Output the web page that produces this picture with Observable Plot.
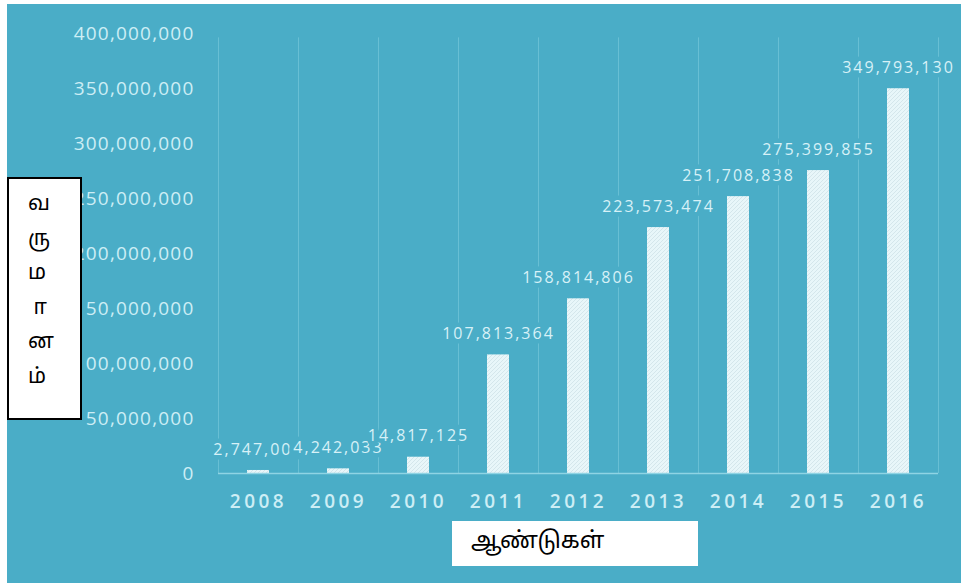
<!DOCTYPE html>
<html>
<head>
<meta charset="utf-8">
<script src="https://cdn.jsdelivr.net/npm/d3@7"></script>
<script src="https://cdn.jsdelivr.net/npm/@observablehq/plot@0.6"></script>
<style>
  html, body { margin: 0; padding: 0; background: #ffffff; }
  #wrap { position: absolute; left: 7px; top: 4px; width: 954px; height: 579px; background: #4aadc7; overflow: hidden; }
  #chart svg { display: block; }
  #chart g[aria-label="y-axis tick label"] { letter-spacing: 1.2px; }
  #chart g[aria-label="x-axis tick label"] { letter-spacing: 3.5px; }
  #chart g[aria-label="text"] { letter-spacing: 2px; }
  .ybox { position: absolute; left: 7px; top: 177px; width: 71px; height: 239px; background: #fff; border: 2px solid #000;
          font-family: "Noto Sans Tamil", "Lohit Tamil", "Latha", "Noto Sans", sans-serif; font-size: 21px; color: #000; }
  .ybox div { position: absolute; left: 19px; line-height: 24px; white-space: pre; }
  .xbox { position: absolute; left: 452px; top: 521px; width: 246px; height: 45px; background: #fff;
          font-family: "Noto Sans Tamil", "Lohit Tamil", "Latha", "Noto Sans", sans-serif; font-size: 23px; color: #000; }
  .xbox span { position: absolute; left: 19px; top: 8px; line-height: 28px; }
</style>
</head>
<body>
<div id="wrap"><div id="chart"></div></div>
<div class="ybox" id="ybox"></div>
<div class="xbox"><span id="xtitle"></span></div>
<script>
const years = ["2008", "2009", "2010", "2011", "2012", "2013", "2014", "2015", "2016"];
const revenue = [2747000, 4242033, 14817125, 107813364, 158814806, 223573474, 251708838, 275399855, 349793130];
const yTicks = [0, 50000000, 100000000, 150000000, 200000000, 250000000, 300000000, 350000000, 400000000];
const yTitleChars = ["வ", "ரு", "ம", "\u00A0ா", "ன", "ம்"];
const xTitle = "ஆண்டுகள்";

const data = years.map((year, i) => ({year, value: revenue[i]}));

const W = 954, H = 579, ML = 211, MR = 23, MT = 29, MB = 110;
const step = (W - ML - MR) / years.length;
const bg = "#4aadc7";
const fmt = d3.format(",");
const yMax = yTicks[yTicks.length - 1];

const plot = Plot.plot({
  width: W, height: H,
  marginLeft: ML, marginRight: MR, marginTop: MT, marginBottom: MB,
  style: {background: "transparent", color: "#d3eff6", fontFamily: "'Open Sans', 'DejaVu Sans', sans-serif"},
  x: {domain: years, padding: 0, label: null},
  y: {domain: [0, yMax], label: null},
  marks: [
    Plot.ruleX(years, {x: d => d, y1: 0, y2: yMax * 0.99, dx: -step / 2, stroke: "#68bfd4", strokeWidth: 1}),
    Plot.ruleX(years.slice(-1), {x: d => d, y1: 0, y2: yMax * 0.99, dx: step / 2, stroke: "#68bfd4", strokeWidth: 1}),
    Plot.barY(data, {x: "year", y: "value", fill: "url(#hatch)", insetLeft: 29, insetRight: 29}),
    Plot.ruleY([0], {stroke: "#8fd4e4", strokeWidth: 1.5}),
    Plot.axisY(yTicks, {tickSize: 0, tickPadding: 24, fontSize: 19, tickFormat: fmt, label: null, fill: "#cdeef5"}),
    Plot.axisX({tickSize: 0, tickPadding: 21, fontSize: 19, fontWeight: 600, label: null, fill: "#cdeef5"}),
    Plot.text(data, {x: "year", y: "value", text: d => fmt(d.value), dy: -21, fontSize: 16,
      fill: "#d7f1f7", stroke: bg, strokeWidth: 9, lineAnchor: "middle"})
  ]
});

const svg = d3.select(plot);
const defs = svg.insert("defs", ":first-child");
const pat = defs.append("pattern").attr("id", "hatch").attr("patternUnits", "userSpaceOnUse")
  .attr("width", 4).attr("height", 4);
pat.append("rect").attr("width", 4).attr("height", 4).attr("fill", "#e8f6f9");
pat.append("path").attr("d", "M-1,1 l2,-2 M0,4 l4,-4 M3,5 l2,-2").attr("stroke", "#c6dce1").attr("stroke-width", 0.6);

document.getElementById("chart").appendChild(plot);

const ybox = document.getElementById("ybox");
yTitleChars.forEach((c, i) => {
  const d = document.createElement("div");
  d.textContent = c;
  d.style.top = (14 + i * 34.5) + "px";
  ybox.appendChild(d);
});
document.getElementById("xtitle").textContent = xTitle;
</script>
</body>
</html>
